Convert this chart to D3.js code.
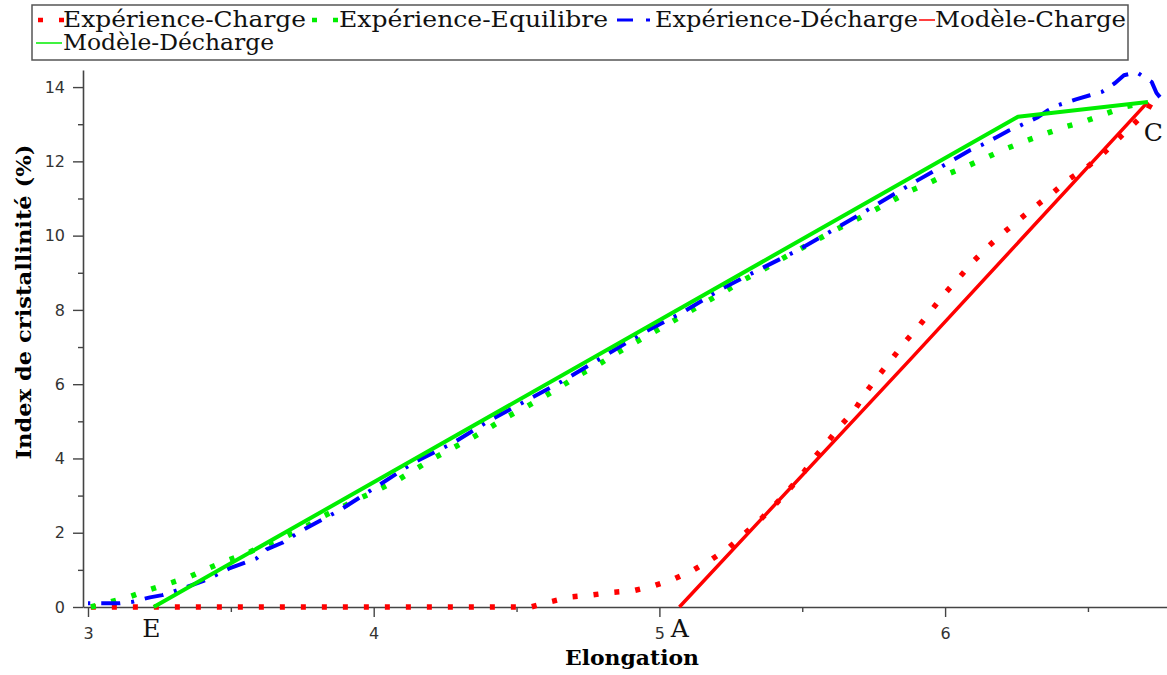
<!DOCTYPE html>
<html>
<head>
<meta charset="utf-8">
<script src="https://cdn.jsdelivr.net/npm/d3@7"></script>
<style>
  body { margin: 0; background: #fff; }
  svg { display: block; }
</style>
</head>
<body>
<div id="chart"></div>
<script>
const width = 1167;
const height = 675;

// ---- data ----
const expChargePts = [
  [3.01, 0], [4.55, 0], [4.617, 0.14], [4.69, 0.27], [4.76, 0.32], [4.83, 0.39],
  [4.91, 0.44], [4.98, 0.57], [5.05, 0.75], [5.116, 0.98], [5.18, 1.27], [5.237, 1.56],
  [5.293, 1.94], [5.349, 2.32], [5.401, 2.72], [5.45, 3.13], [5.498, 3.55], [5.541, 4.01],
  [5.589, 4.45], [5.634, 4.88], [5.681, 5.28], [5.725, 5.8], [5.769, 6.25], [5.814, 6.68],
  [5.86, 7.14], [5.907, 7.55], [5.953, 8.0], [6.0, 8.45], [6.049, 8.87], [6.098, 9.3],
  [6.15, 9.7], [6.203, 10.07], [6.262, 10.45], [6.318, 10.8], [6.377, 11.15], [6.43, 11.5],
  [6.493, 11.82], [6.548, 12.17], [6.6, 12.56], [6.653, 12.95], [6.705, 13.34], [6.72, 13.55]
];

const expEquilibrePts = [
  [3.01, 0], [3.08, 0.14], [3.15, 0.29], [3.22, 0.48], [3.29, 0.65], [3.36, 0.83],
  [3.42, 1.04], [3.49, 1.26], [3.56, 1.46], [3.625, 1.69], [3.69, 1.89], [3.76, 2.15],
  [3.82, 2.43], [3.885, 2.68], [3.952, 2.93], [4.022, 3.18], [4.085, 3.42], [4.148, 3.72],
  [4.211, 4.01], [4.277, 4.28], [4.343, 4.55], [4.404, 4.82], [4.467, 5.12], [4.532, 5.38],
  [4.596, 5.66], [4.658, 5.95], [4.72, 6.25], [4.785, 6.52], [4.845, 6.81], [4.915, 7.12],
  [4.975, 7.38], [5.037, 7.65], [5.1, 7.93], [5.165, 8.22], [5.23, 8.5], [5.293, 8.8],
  [5.36, 9.07], [5.42, 9.34], [5.485, 9.61], [5.55, 9.88], [5.615, 10.15], [5.681, 10.4],
  [5.746, 10.66], [5.813, 10.93], [5.877, 11.2], [5.944, 11.42], [6.01, 11.66], [6.077, 11.87],
  [6.15, 12.12], [6.21, 12.33], [6.29, 12.57], [6.35, 12.74], [6.42, 12.93], [6.49, 13.08],
  [6.55, 13.25], [6.63, 13.47], [6.70, 13.58]
];

const expDechargePts = [
  [6.752, 13.73], [6.74, 13.84], [6.723, 14.14], [6.67, 14.4], [6.626, 14.32], [6.595, 14.11],
  [6.549, 13.87], [6.507, 13.78], [6.458, 13.67], [6.395, 13.51], [6.357, 13.36], [6.325, 13.19],
  [6.262, 12.96], [6.22, 12.82], [6.18, 12.65], [6.128, 12.44], [6.087, 12.3], [6.017, 11.99],
  [5.888, 11.42], [5.748, 10.78], [5.615, 10.18], [5.48, 9.59], [5.345, 9.07], [5.212, 8.54],
  [5.078, 7.92], [4.943, 7.38], [4.838, 6.9], [4.658, 6.07], [4.407, 5.03], [4.278, 4.42],
  [4.138, 3.88], [4.01, 3.24], [3.882, 2.61], [3.742, 2.03], [3.68, 1.73], [3.625, 1.55],
  [3.59, 1.31], [3.497, 1.05], [3.415, 0.73], [3.305, 0.43], [3.26, 0.32], [3.217, 0.26],
  [3.156, 0.14], [3.112, 0.1], [3.0, 0.1]
];

const modeleChargePts = [[5.07, 0], [5.88, 6.68], [6.71, 13.6]];
const modeleDechargePts = [[3.23, 0], [6.255, 13.2], [6.71, 13.6]];

const xMajorTicks = [3, 4, 5, 6];
const xMinorTicks = [3.5, 4.5, 5.5, 6.5];
const yMajorTicks = [0, 2, 4, 6, 8, 10, 12, 14];
const yMinorTicks = [1, 3, 5, 7, 9, 11, 13];

const pointLabels = [
  { text: "E", x: 3.19, y: 0 },
  { text: "A", x: 5.04, y: 0 },
  { text: "C", x: 6.695, y: 13.6 }
];

// ---- styles ----
const RED = "#ff0000", GREEN = "#00ee00", BLUE = "#0000ff";
const styles = {
  expCharge: { color: RED, width: 5.5, dash: "5,16" },
  expEquilibre: { color: GREEN, width: 5.5, dash: "5,16" },
  expDecharge: { color: BLUE, width: 4, dash: "19,11,3,11" },
  modCharge: { color: RED, width: 3.5, dash: null },
  modDecharge: { color: GREEN, width: 4, dash: null }
};

const svg = d3.select("#chart").append("svg")
  .attr("width", width)
  .attr("height", height);

const x = d3.scaleLinear().domain([2.9825, 6.7767]).range([83, 1167]);
const y = d3.scaleLinear().domain([0, 14.46]).range([607, 70]);

const line = d3.line().x(d => x(d[0])).y(d => y(d[1]));

// ---- axes ----
const tickFont = "'DejaVu Sans', sans-serif";

const xAxis = svg.append("g").attr("transform", `translate(0,${y(0)})`);
xAxis.call(d3.axisBottom(x).tickValues(xMajorTicks).tickSize(10).tickSizeOuter(0).tickPadding(11).tickFormat(d3.format("d")));
xAxis.append("g").call(d3.axisBottom(x).tickValues(xMinorTicks).tickSize(5).tickSizeOuter(0).tickFormat(""))
  .select(".domain").remove();

const yAxis = svg.append("g").attr("transform", `translate(${x.range()[0]},0)`);
yAxis.call(d3.axisLeft(y).tickValues(yMajorTicks).tickSize(10).tickSizeOuter(0).tickPadding(8).tickFormat(d3.format("d")));
yAxis.append("g").call(d3.axisLeft(y).tickValues(yMinorTicks).tickSize(5).tickSizeOuter(0).tickFormat(""))
  .select(".domain").remove();

svg.selectAll(".domain").attr("stroke", "#444").attr("stroke-width", 1.6);
svg.selectAll(".tick line").attr("stroke", "#444").attr("stroke-width", 1.4);
svg.selectAll(".tick text")
  .style("font-family", tickFont)
  .style("font-size", "16px")
  .attr("fill", "#333");

// ---- series ----
function drawSeries(pts, st) {
  const p = svg.append("path")
    .datum(pts)
    .attr("d", line)
    .attr("fill", "none")
    .attr("stroke", st.color)
    .attr("stroke-width", st.width)
    .attr("stroke-linejoin", "round");
  if (st.dash) p.attr("stroke-dasharray", st.dash);
}

drawSeries(expChargePts, styles.expCharge);
drawSeries(expEquilibrePts, styles.expEquilibre);
drawSeries(expDechargePts, styles.expDecharge);
drawSeries(modeleChargePts, styles.modCharge);
drawSeries(modeleDechargePts, styles.modDecharge);

// ---- point labels E, A, C ----
svg.selectAll(".pt-label")
  .data(pointLabels)
  .enter()
  .append("text")
  .attr("class", "pt-label")
  .attr("x", d => x(d.x))
  .attr("y", d => d.text === "C" ? y(d.y) + 39 : y(d.y) + 30)
  .style("font-family", "'DejaVu Serif', serif")
  .style("font-size", "25px")
  .attr("fill", "#111")
  .text(d => d.text);

// ---- axis titles ----
svg.append("text")
  .attr("x", 632)
  .attr("y", 665)
  .attr("text-anchor", "middle")
  .style("font-family", "'DejaVu Serif', serif")
  .style("font-weight", "bold")
  .style("font-size", "21px")
  .attr("textLength", 134)
  .attr("lengthAdjust", "spacingAndGlyphs")
  .text("Elongation");

svg.append("text")
  .attr("transform", "translate(31,302) rotate(-90)")
  .attr("text-anchor", "middle")
  .style("font-family", "'DejaVu Serif', serif")
  .style("font-weight", "bold")
  .style("font-size", "21px")
  .attr("textLength", 315)
  .attr("lengthAdjust", "spacingAndGlyphs")
  .text("Index de cristallinité (%)");

// ---- legend ----
const legend = svg.append("g");
legend.append("rect")
  .attr("x", 32).attr("y", 5)
  .attr("width", 1096).attr("height", 55)
  .attr("fill", "#fff")
  .attr("stroke", "#555")
  .attr("stroke-width", 1.5);

const legendItems = [
  { label: "Expérience-Charge", st: styles.expCharge, x0: 38, x1: 64, tx: 63, tl: 243, row: 0 },
  { label: "Expérience-Equilibre", st: styles.expEquilibre, x0: 312, x1: 338, tx: 339, tl: 269, row: 0 },
  { label: "Expérience-Décharge", st: styles.expDecharge, x0: 617, x1: 650, tx: 655, tl: 263, row: 0 },
  { label: "Modèle-Charge", st: styles.modCharge, x0: 919, x1: 935, tx: 935, tl: 191, row: 0 },
  { label: "Modèle-Décharge", st: styles.modDecharge, x0: 36, x1: 62, tx: 63, tl: 211, row: 1 }
];

legendItems.forEach(item => {
  const base = 27 + item.row * 23;
  const ln = legend.append("line")
    .attr("x1", item.x0).attr("x2", item.x1)
    .attr("y1", base - 7).attr("y2", base - 7)
    .attr("stroke", item.st.color)
    .attr("stroke-width", item.st.dash ? item.st.width * 0.8 : 1.5);
  if (item.st.dash) ln.attr("stroke-dasharray", item.st.dash === "19,11,3,11" ? "16,13,4,30" : item.st.dash);
  legend.append("text")
    .attr("x", item.tx)
    .attr("y", base)
    .style("font-family", "'DejaVu Serif', serif")
    .style("font-size", "22px")
    .attr("textLength", item.tl)
    .attr("lengthAdjust", "spacingAndGlyphs")
    .attr("fill", "#111")
    .text(item.label);
});
</script>
</body>
</html>
